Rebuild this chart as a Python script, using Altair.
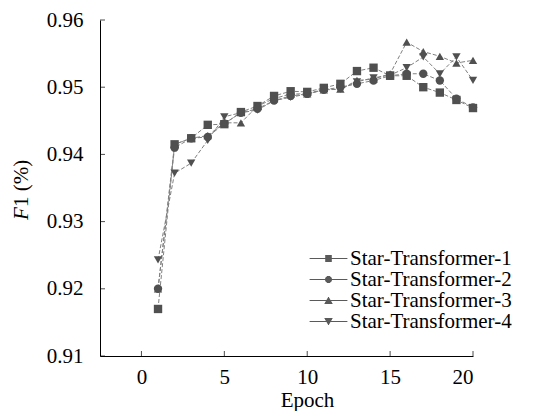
import altair as alt
import pandas as pd

# ---------------- data ----------------
epochs = list(range(1, 21))
series_names = ["Star-Transformer-1", "Star-Transformer-2",
                "Star-Transformer-3", "Star-Transformer-4"]

f1_st1 = [0.9170, 0.9415, 0.9424, 0.9444, 0.9445, 0.9463, 0.9472, 0.9487, 0.9494, 0.9493,
          0.9499, 0.9505, 0.9524, 0.9529, 0.9517, 0.9517, 0.9500, 0.9492, 0.9481, 0.9469]
f1_st2 = [0.9200, 0.9410, 0.9424, 0.9426, 0.9446, 0.9462, 0.9468, 0.9480, 0.9487, 0.9490,
          0.9496, 0.9500, 0.9505, 0.9510, 0.9517, 0.9520, 0.9520, 0.9510, 0.9483, 0.9470]
f1_st3 = [0.9200, 0.9415, 0.9424, 0.9428, 0.9447, 0.9447, 0.9472, 0.9483, 0.9490, 0.9490,
          0.9496, 0.9497, 0.9510, 0.9512, 0.9520, 0.9567, 0.9553, 0.9546, 0.9536, 0.9540]
f1_st4 = [0.9243, 0.9372, 0.9387, 0.9421, 0.9456, 0.9462, 0.9466, 0.9480, 0.9485, 0.9490,
          0.9497, 0.9497, 0.9508, 0.9514, 0.9518, 0.9529, 0.9545, 0.9520, 0.9545, 0.9510]

x_ticks = [0, 5, 10, 15, 20]
y_ticks = [0.91, 0.92, 0.93, 0.94, 0.95, 0.96]

# ---------------- table ----------------
rows = []
for name, vals in zip(series_names, [f1_st1, f1_st2, f1_st3, f1_st4]):
    for e, v in zip(epochs, vals):
        rows.append({"epoch": e, "f1": v, "series": name})
df = pd.DataFrame(rows)

FONT = "Liberation Serif"
W, H = 373, 336
MARK_GRAY = "#505050"
LINE_GRAY = "#808080"

xscale = alt.Scale(domain=[-2.5, 20], nice=False, zero=False)
yscale = alt.Scale(domain=[0.91, 0.96], nice=False, zero=False)

x_axis = alt.Axis(values=x_ticks, ticks=False, grid=False, labelPadding=10,
                  labelFontSize=21, labelFont=FONT, labelColor="black",
                  domainColor="black", domainWidth=1,
                  title="Epoch", titleFont=FONT, titleFontSize=21,
                  titleFontWeight="normal", titleColor="black",
                  titleX=207, titleY=50, titleBaseline="alphabetic", titleAlign="center")
y_axis = alt.Axis(values=y_ticks, format=".2f", ticks=False, grid=False, labelPadding=17,
                  labelFontSize=21, labelFont=FONT, labelColor="black",
                  domainColor="black", domainWidth=1, title="")

X = lambda f: alt.X(f, scale=xscale, axis=x_axis)
Y = lambda f: alt.Y(f, scale=yscale, axis=y_axis)

lines = alt.Chart(df).mark_line(strokeWidth=1, strokeDash=[4, 2], color=LINE_GRAY).encode(
    x=X("epoch:Q"),
    y=Y("f1:Q"),
    detail="series:N",
)

points = alt.Chart(df).mark_point(filled=True, opacity=1, color=MARK_GRAY, size=70).encode(
    x=X("epoch:Q"),
    y=Y("f1:Q"),
    shape=alt.Shape("series:N",
                    scale=alt.Scale(domain=series_names,
                                    range=["square", "circle", "triangle-up", "triangle-down"]),
                    legend=None),
)

# legend symbols: a line with a (hatched = filled-looking) marker, unit = 7px
LINE = "M-2.7,0H2.7"
Y7 = [-3, -2, -1, 0, 1, 2, 3]


def hatch(half_widths):
    return "".join(
        f"M{-w / 7:.3f},{y / 7:.3f}H{w / 7:.3f}" for y, w in zip(Y7, half_widths)
    )


sq_w = [3.3] * 7
ci_w = [1.8, 2.87, 3.35, 3.5, 3.35, 2.87, 1.8]
tu_w = [0.57, 1.14, 1.71, 2.29, 2.86, 3.43, 4.0]
td_w = tu_w[::-1]
legend_paths = [LINE + hatch(sq_w), LINE + hatch(ci_w), LINE + hatch(tu_w), LINE + hatch(td_w)]

legend_layer = alt.Chart(df).transform_filter("datum.epoch < 0").mark_point(
    filled=False, color="#5a5a5a", strokeWidth=1.2, opacity=1
).encode(
    x=X("epoch:Q"),
    y=Y("f1:Q"),
    shape=alt.Shape("series:N",
                    scale=alt.Scale(domain=series_names, range=legend_paths),
                    legend=alt.Legend(orient="none", legendX=218, legendY=228, title=None,
                                      padding=0, labelFont=FONT, labelFontSize=21,
                                      labelColor="black", labelLimit=400,
                                      labelOffset=11, rowPadding=-2, symbolSize=196,
                                      symbolStrokeColor="#5a5a5a",
                                      symbolStrokeWidth=1.2, symbolOpacity=1)),
)

ytick_df = pd.DataFrame({"v": y_ticks})
xtick_df = pd.DataFrame({"v": x_ticks})

yticks = alt.Chart(ytick_df).mark_tick(color="black", size=5, thickness=1).encode(
    y=Y("v:Q"),
    x=alt.value(2.5),
)
xticks = alt.Chart(xtick_df).mark_tick(color="black", size=5, thickness=1).encode(
    x=X("v:Q"),
    y=alt.value(H - 2.5),
)

title_f = alt.Chart(pd.DataFrame({"t": ["F"]})).mark_text(
    angle=270, align="left", baseline="middle", font=FONT, fontSize=21,
    fontStyle="italic", color="black"
).encode(text="t:N", x=alt.value(-78), y=alt.value(200))

title_rest = alt.Chart(pd.DataFrame({"t": ["1 (%)"]})).mark_text(
    angle=270, align="left", baseline="middle", font=FONT, fontSize=21, color="black"
).encode(text="t:N", x=alt.value(-78), y=alt.value(187))

chart = alt.layer(
    lines, points, legend_layer, yticks, xticks, title_f, title_rest
).resolve_scale(shape="independent").properties(
    width=W, height=H,
    autosize=alt.AutoSizeParams(type="none"),
    padding={"left": 92, "top": 12, "right": 78, "bottom": 55},
).configure(font=FONT).configure_view(stroke=None).configure_axis(
    labelFont=FONT, titleFont=FONT
).configure_legend(labelFont=FONT).configure_text(font=FONT)

chart.save("out.html", embed_options={"renderer": "svg", "actions": False})
